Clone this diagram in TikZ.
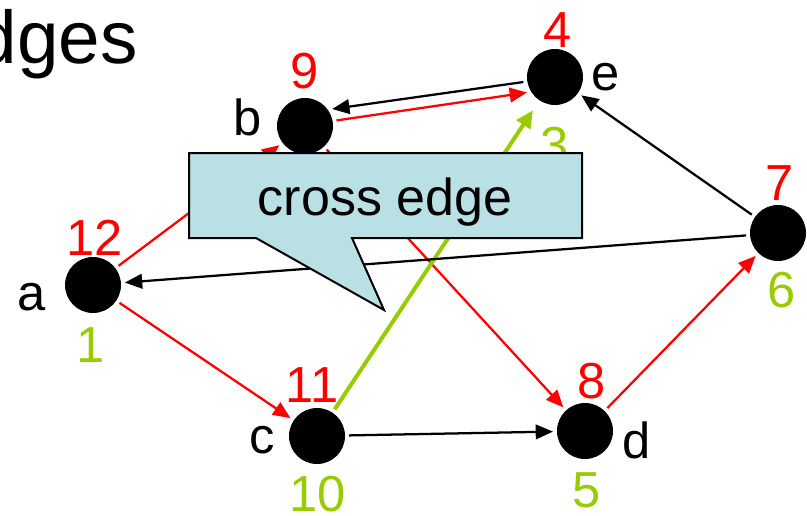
\documentclass[tikz,border=0pt]{standalone}
\usepackage{fontspec}
\setmainfont{Liberation Sans}
\usetikzlibrary{arrows.meta}
\definecolor{treegreen}{RGB}{153,204,0}
\definecolor{calloutblue}{RGB}{185,224,228}

\begin{document}
\begin{tikzpicture}[x=0.75pt, y=-0.75pt,
  vtx/.style={circle, fill=black, inner sep=0pt, minimum size=42pt, outer sep=3pt},
  lbl/.style={font=\fontsize{38}{40}\selectfont, inner sep=0pt, anchor=base},
  treeedge/.style={red, line width=1.7pt, -{Triangle[length=13pt, width=11pt]}},
  otheredge/.style={black, line width=1.7pt, -{Triangle[length=13pt, width=11pt]}},
  crossedge/.style={treegreen, line width=3pt, -{Triangle[length=13pt, width=12pt]}}]
  \useasboundingbox (0,0) rectangle (807,515);
  % title, cut at the left edge
  \node[font=\fontsize{56}{60}\selectfont, inner sep=0pt, anchor=base east] (title) at (138,63) {Edges};
  % vertices
  \node[vtx] (a) at (93,285) {};
  \node[vtx] (b) at (305,126) {};
  \node[vtx] (e) at (555,77) {};
  \node[vtx] (f) at (778,233) {};
  \node[vtx] (c) at (317,436) {};
  \node[vtx] (d) at (585,431) {};
  % edges
  \draw[treeedge] (a) -- (b);
  \draw[treeedge] (a) -- (c);
  \draw[treeedge] (b.10) -- (e.209);
  \draw[otheredge] (e.189) -- (b.32);
  \draw[treeedge] (b) -- (d);
  \draw[otheredge] (c) -- (d);
  \draw[crossedge, shorten >=6pt] (c) -- (e);
  \draw[treeedge] (d) -- (f);
  \draw[otheredge] (f) -- (e);
  \draw[otheredge] (f) -- (a);
  % names
  \node[lbl] at (32,310) {a};
  \node[lbl] at (248,135) {b};
  \node[lbl] at (262,453) {c};
  \node[lbl] at (637,458) {d};
  \node[lbl] at (606,90) {e};
  % numbers
  \node[lbl, red] at (95,255) {12};
  \node[lbl, red] at (305,88) {9};
  \node[lbl, red] at (558,47) {4};
  \node[lbl, red] at (780,200) {7};
  \node[lbl, red] at (312,402) {11};
  \node[lbl, red] at (592,398) {8};
  \node[lbl, treegreen] at (91,362) {1};
  \node[lbl, treegreen] at (555,162) {3};
  \node[lbl, treegreen] at (782,307) {6};
  \node[lbl, treegreen] at (318,511) {10};
  \node[lbl, treegreen] at (587,507) {5};
  % callout
  \draw[fill=calloutblue, line width=1.5pt] (189,153) -- (582,153) -- (582,238) -- (352,238)
    -- (384,310) -- (256,238) -- (189,238) -- cycle;
  \node[font=\fontsize{39}{40}\selectfont, inner sep=0pt, anchor=base] (note) at (385,215) {cross edge};
\end{tikzpicture}
\end{document}
